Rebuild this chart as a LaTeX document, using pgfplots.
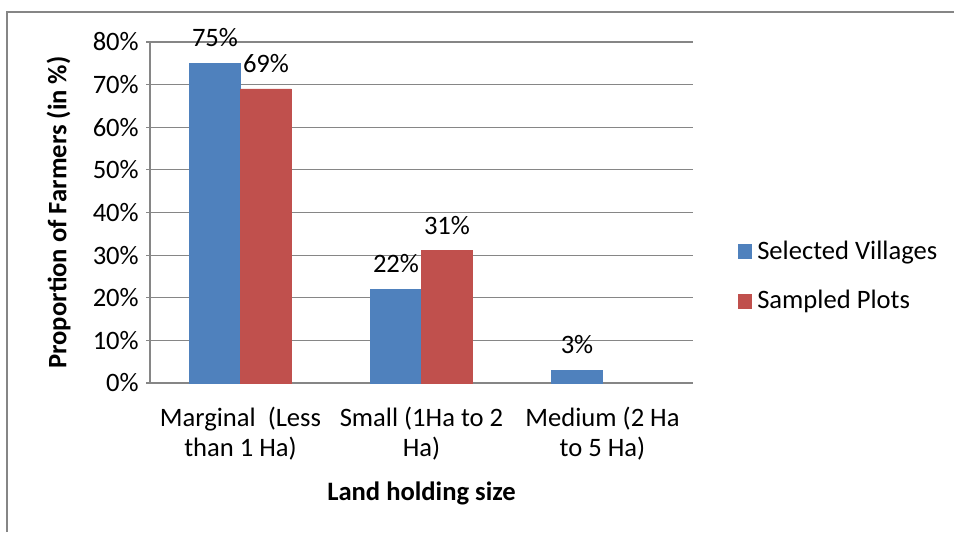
\documentclass[border=0pt]{standalone}
\usepackage{pgfplots}
\pgfplotsset{compat=1.18}
\usepackage{fontspec}
\setmainfont{Carlito}
\definecolor{sv}{HTML}{4F81BD}
\definecolor{sp}{HTML}{C0504D}
\definecolor{gridc}{HTML}{868686}
\newcommand{\fs}{\fontsize{13.3}{15}\selectfont}
\begin{document}
\begin{tikzpicture}
\fs
% page frame (1 px of the reference = 0.5pt)
\path[use as bounding box] (-75pt,-74.5pt) rectangle (402pt,191.5pt);
\draw[gridc,line width=0.6pt] (-71.5pt,-74.5pt) -- (-71.5pt,185.5pt) -- (402pt,185.5pt);
\begin{axis}[
    at={(0,0)}, anchor=south west,
    scale only axis,
    width=271.5pt, height=170.5pt,
    ybar=0pt, bar width=25.5pt,
    xmin=-0.5, xmax=2.5,
    ymin=0, ymax=80,
    ytick={0,10,...,80},
    yticklabel={\pgfmathprintnumber{\tick}\%},
    /pgf/number format/assume math mode=true,
    ymajorgrids, grid style={gridc, line width=0.6pt},
    axis x line*=bottom, axis y line*=left,
    axis line style={gridc, line width=0.6pt, -},
    major tick length=3.5pt,
    tick style={gridc, line width=0.6pt},
    ytick style={xshift=-1.75pt},
    yticklabel style={xshift=-1pt},
    xtick={0,1,2},
    xticklabels={{Marginal\ \ (Less\\than 1 Ha)},{Small (1Ha to 2\\Ha)},{Medium (2 Ha\\to 5 Ha)}},
    xticklabel style={align=center, yshift=-4pt},
    x tick style={draw=none},
    extra x ticks={-0.5,0.5,1.5,2.5},
    extra x tick labels={},
    extra x tick style={tick style={draw=gridc, yshift=-2pt}, major tick length=4pt, grid=none},
    xlabel={\textbf{Land holding size}},
    ylabel={\textbf{Proportion of Farmers (in \%)}},
    xlabel style={yshift=6pt},
    ylabel style={yshift=2pt},
    tick label style={font=\fs},
    label style={font=\fs},
    nodes near coords={\pgfmathprintnumber{\pgfplotspointmeta}\%},
    nodes near coords style={font=\fs, inner sep=0pt, yshift=8pt, /pgf/number format/assume math mode=true},
    legend style={at={(1.083,0.312)}, anchor=west, draw=none, fill=none,
        font=\fs, row sep=9.5pt, inner xsep=0pt,
        legend cell align=left,
        nodes={inner xsep=2.5pt}},
    legend image code/.code={\fill[#1] (0pt,-3.5pt) rectangle (6.5pt,3.5pt);},
]
\addplot[fill=sv, draw=sv] coordinates {(0,75) (1,22) (2,3)};
\addplot[fill=sp, draw=sp] coordinates {(0,69) (1,31)};
\legend{Selected Villages, Sampled Plots}
\end{axis}
\end{tikzpicture}
\end{document}
